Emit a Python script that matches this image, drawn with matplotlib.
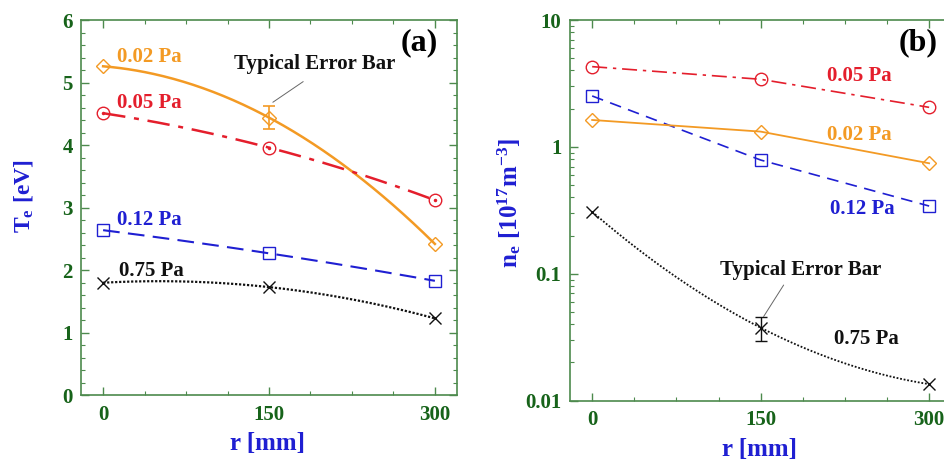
import numpy as np
import matplotlib
matplotlib.use("Agg")
import matplotlib.pyplot as plt
from matplotlib.ticker import MultipleLocator, LogLocator, NullFormatter, FixedLocator

plt.rcParams["font.family"] = ["Liberation Serif", "DejaVu Serif"]
plt.rcParams["font.weight"] = "bold"
plt.rcParams["mathtext.fontset"] = "custom"
plt.rcParams["mathtext.rm"] = "Liberation Serif:bold"
plt.rcParams["mathtext.bf"] = "Liberation Serif:bold"
plt.rcParams["mathtext.it"] = "Liberation Serif:bold"

# radial positions [mm]
r = [0, 150, 300]
pressures = ["0.02 Pa", "0.05 Pa", "0.12 Pa", "0.75 Pa"]

# electron temperature [eV]
te_002 = [5.26, 4.44, 2.42]
te_005 = [4.51, 3.96, 3.12]
te_012 = [2.64, 2.27, 1.83]
te_075 = [1.80, 1.73, 1.23]
te_err = 0.18  # typical error bar, 0.02 Pa at r=150

# electron density [1e17 m^-3]
ne_002 = [1.63, 1.32, 0.743]
ne_005 = [4.29, 3.41, 2.05]
ne_012 = [2.52, 0.788, 0.342]
ne_075 = [0.308, 0.0376, 0.0135]
ne_err = 0.008  # typical error bar, 0.75 Pa at r=150

ORANGE = "#f39a24"
RED = "#e41e2c"
BLUE = "#1f1fd2"
BLACK = "#111111"
GREEN = "#17631a"
FRAME = "#4d8a4d"

fig = plt.figure(figsize=(9.44, 4.59), dpi=100)
W, H = 944.0, 459.0
ax1 = fig.add_axes([81 / W, (H - 395.3) / H, 376 / W, 375.3 / H])
ax2 = fig.add_axes([569.7 / W, (H - 400.7) / H, 381.9 / W, 380.7 / H])


def smooth(x, y, log=False):
    xs = np.linspace(min(x), max(x), 200)
    yy = np.log10(y) if log else np.asarray(y)
    c = np.polyfit(x, yy, 2)
    ys = np.polyval(c, xs)
    return xs, (10 ** ys if log else ys)


def style_axes(ax):
    for s in ax.spines.values():
        s.set_color(FRAME)
        s.set_linewidth(1.2)
    ax.tick_params(which="both", direction="in", top=True, right=True,
                   colors=FRAME, labelcolor=GREEN, labelsize=15)
    ax.tick_params(which="major", length=6, width=1)
    ax.tick_params(which="minor", length=3, width=0.8)
    ax.tick_params(axis="x", pad=7)
    ax.tick_params(axis="y", pad=6)
    ax.set_xlim(-20, 320)
    ax.xaxis.set_major_locator(FixedLocator(r))
    ax.xaxis.set_minor_locator(MultipleLocator(37.5))
    for t in ax.get_xticklabels() + ax.get_yticklabels():
        t.set_fontweight("bold")


# ---- (a) electron temperature
ms = 9
ax1.plot(*smooth(r, te_002), color=ORANGE, lw=1.8, ls="-")
ax1.plot(r, te_002, ls="none", marker="D", ms=7.5, mfc="none", mec=ORANGE, mew=1)
ax1.errorbar([r[1]], [te_002[1]], yerr=te_err, color=ORANGE, capsize=4.5, lw=1.2, capthick=1.2, fmt="none")

ax1.plot(*smooth(r, te_005), color=RED, lw=1.8, dashes=(9, 3.5, 2, 3.5))
ax1.plot(r, te_005, ls="none", marker="o", ms=ms, mfc="none", mec=RED, mew=1)
ax1.plot(r, te_005, ls="none", marker=".", ms=3, color=RED)

ax1.plot(*smooth(r, te_012), color=BLUE, lw=1.5, dashes=(8, 4))
ax1.plot(r, te_012, ls="none", marker="s", ms=ms, mfc="none", mec=BLUE, mew=1)

ax1.plot(*smooth(r, te_075), color=BLACK, lw=1.6, dashes=(1, 0.8))
ax1.plot(r, te_075, ls="none", marker="x", ms=ms, color=BLACK, mew=1)

style_axes(ax1)
ax1.set_ylim(0, 6)
ax1.yaxis.set_major_locator(MultipleLocator(1))
ax1.yaxis.set_minor_locator(MultipleLocator(0.2))

lab = dict(fontsize=15, fontweight="bold", ha="left", va="center")
ax1.text(12.7, 5.41, pressures[0], color=ORANGE, **lab)
ax1.text(12.7, 4.67, pressures[1], color=RED, **lab)
ax1.text(12.7, 2.80, pressures[2], color=BLUE, **lab)
ax1.text(14.5, 1.99, pressures[3], color=BLACK, **lab)
ax1.text(118.7, 5.30, "Typical Error Bar", color=BLACK, fontsize=15, fontweight="bold",
         ha="left", va="center")
ax1.annotate("", xy=(151.4, 4.66), xytext=(183, 5.04),
             arrowprops=dict(arrowstyle="-", color="#666666", lw=0.7))
ax1.text(269, 5.63, "(a)", fontsize=23, fontweight="bold", ha="left", va="center")

ax1.set_xlabel("r [mm]", color=BLUE, fontsize=18, fontweight="bold")
ax1.set_ylabel(r"$\mathbf{T_e\ [eV]}$", color=BLUE, fontsize=17)
ax1.xaxis.set_label_coords(0.496, -0.098)
ax1.yaxis.set_label_coords(-0.122, 0.53)

# ---- (b) electron density
ax2.set_yscale("log")
ax2.plot(r, ne_005, color=RED, lw=1.2, dashes=(9, 3.5, 2, 3.5),
         marker="o", ms=ms, mfc="none", mec=RED, mew=1)
ax2.plot(r, ne_012, color=BLUE, lw=1.2, dashes=(7, 4.5),
         marker="s", ms=ms, mfc="none", mec=BLUE, mew=1)
ax2.plot(r, ne_002, color=ORANGE, lw=1.3, ls="-",
         marker="D", ms=7.5, mfc="none", mec=ORANGE, mew=1)
ax2.plot(*smooth(r, ne_075, log=True), color=BLACK, lw=1.3, dashes=(1, 1))
ax2.plot(r, ne_075, ls="none", marker="x", ms=ms, color=BLACK, mew=1)
ax2.errorbar([r[1]], [ne_075[1]], yerr=ne_err, color=BLACK, capsize=4.5, lw=1, capthick=1, fmt="none")

style_axes(ax2)
ax2.set_ylim(0.01, 10)
ax2.yaxis.set_major_locator(LogLocator(base=10, numticks=10))
ax2.yaxis.set_minor_locator(LogLocator(base=10, subs=np.arange(2, 10), numticks=10))
ax2.yaxis.set_minor_formatter(NullFormatter())
ax2.set_yticks([0.01, 0.1, 1, 10])
ax2.set_yticklabels(["0.01", "0.1", "1", "10"])
for t in ax2.get_yticklabels():
    t.set_fontweight("bold")

ax2.text(209.2, 3.62, pressures[1], color=RED, **lab)
ax2.text(209.2, 1.24, pressures[0], color=ORANGE, **lab)
ax2.text(211.9, 0.324, pressures[2], color=BLUE, **lab)
ax2.text(215.2, 0.0308, pressures[3], color=BLACK, **lab)
ax2.text(114, 0.107, "Typical Error Bar", color=BLACK, fontsize=15, fontweight="bold",
         ha="left", va="center")
ax2.annotate("", xy=(151.3, 0.0441), xytext=(171.8, 0.0851),
             arrowprops=dict(arrowstyle="-", color="#666666", lw=0.7))
ax2.text(273, 6.59, "(b)", fontsize=23, fontweight="bold", ha="left", va="center")

ax2.set_xlabel("r [mm]", color=BLUE, fontsize=18, fontweight="bold")
ax2.set_ylabel(r"$\mathbf{n_e\ [10^{17}m^{-3}]}$", color=BLUE, fontsize=18)
ax2.xaxis.set_label_coords(0.497, -0.097)
ax2.yaxis.set_label_coords(-0.122, 0.52)

fig.savefig("out.png", dpi=100)
